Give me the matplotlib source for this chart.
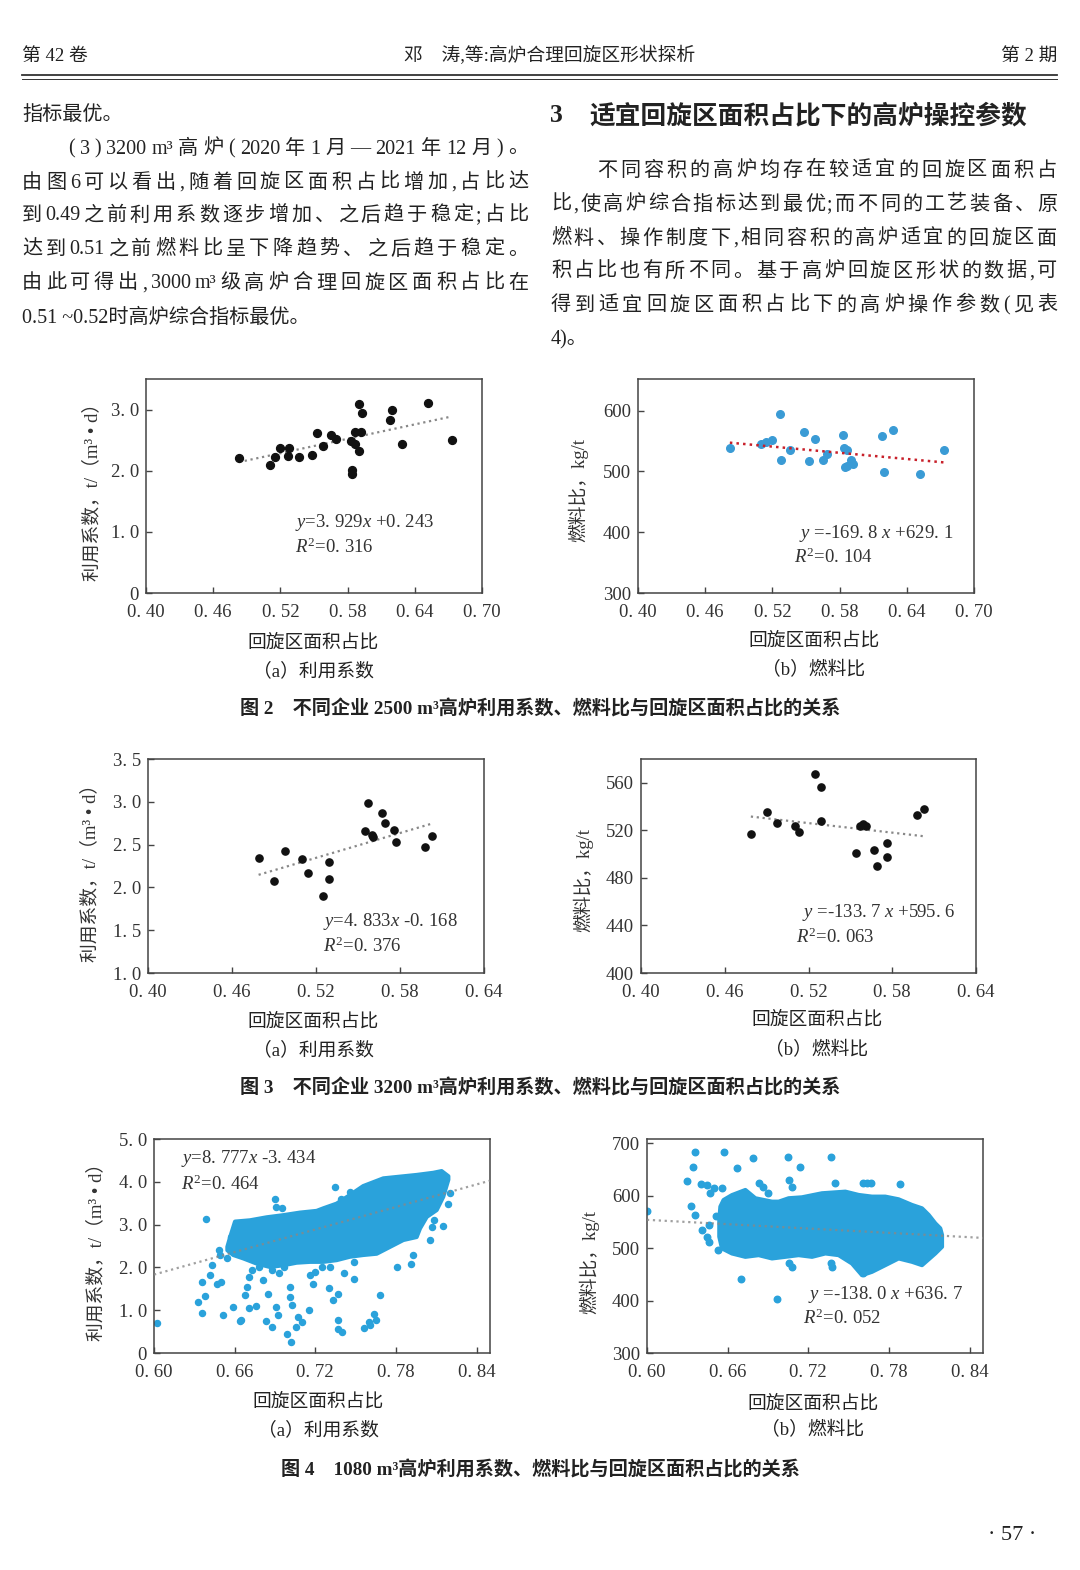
import re
import numpy as np
import matplotlib
matplotlib.use('Agg')
import matplotlib.pyplot as plt
from matplotlib.lines import Line2D

FAM = ['Liberation Serif', 'Noto Sans CJK SC']
plt.rcParams['font.family'] = FAM
plt.rcParams['mathtext.fontset'] = 'custom'
plt.rcParams['mathtext.rm'] = 'Liberation Serif'
plt.rcParams['mathtext.it'] = 'Liberation Serif:italic'

W, H = 1080, 1570
BLUE = '#2aa2db'
TXT = '#222222'

# ---------------- data: Fig 2 (2500 m3) ----------------
f2a_x = [0.483, 0.511, 0.515, 0.520, 0.527, 0.528, 0.537, 0.548, 0.553, 0.558, 0.565, 0.570, 0.583,
         0.584, 0.584, 0.587, 0.587, 0.590, 0.590, 0.592, 0.593, 0.618, 0.620, 0.629, 0.652, 0.673]
f2a_y = [2.21, 2.09, 2.23, 2.37, 2.24, 2.37, 2.23, 2.26, 2.61, 2.41, 2.59, 2.52, 2.48,
         2.01, 1.95, 2.63, 2.43, 2.32, 3.09, 2.63, 2.95, 2.83, 2.99, 2.44, 3.11, 2.51]
f2a_fit = (3.929, 0.243)

f2b_x = [0.482, 0.510, 0.514, 0.520, 0.527, 0.528, 0.536, 0.548, 0.553, 0.558, 0.565, 0.569, 0.583,
         0.584, 0.585, 0.587, 0.587, 0.590, 0.592, 0.618, 0.620, 0.628, 0.652, 0.673]
f2b_y = [537.8, 544.4, 548.3, 552.1, 594.5, 519.1, 534.5, 564.2, 517.4, 552.7, 519.1, 529.0, 559.3,
         538.9, 507.0, 508.6, 534.5, 519.1, 512.5, 558.7, 498.7, 568.1, 496.0, 535.6]
f2b_fit = (-169.8, 629.1)

# ---------------- data: Fig 3 (3200 m3) ----------------
f3a_x = [0.479, 0.490, 0.498, 0.510, 0.514, 0.525, 0.529, 0.529, 0.555, 0.557, 0.560, 0.561, 0.567,
         0.569, 0.576, 0.577, 0.598, 0.603]
f3a_y = [2.342, 2.076, 2.431, 2.334, 2.166, 1.901, 2.291, 2.100, 2.661, 2.989, 2.615, 2.587, 2.872,
         2.747, 2.669, 2.533, 2.474, 2.599]
f3a_fit = (4.833, -0.168)

f3b_x = [0.4787, 0.490, 0.4976, 0.510, 0.513, 0.5245, 0.529, 0.529, 0.554, 0.557, 0.559, 0.561, 0.567,
         0.569, 0.5765, 0.5765, 0.5975, 0.603]
f3b_y = [516.9, 535.2, 526.5, 523.4, 518.3, 567.0, 556.3, 528.2, 500.6, 523.7, 525.6, 523.4, 503.1,
         490.4, 509.0, 497.5, 532.7, 538.3]
f3b_fit = (-133.7, 595.6)

# ---------------- data: Fig 4 (1080 m3) ----------------
# dense cloud outline (upper edge left->right, lower edge right->left) + separate points
f4a_top_x = [0.6546, 0.6566, 0.6603, 0.6714, 0.6838, 0.6962, 0.7086, 0.7210, 0.7260, 0.7359, 0.7458,
             0.7557, 0.7706, 0.7830, 0.7954, 0.8078, 0.8140, 0.8190]
f4a_top_y = [2.48, 2.70, 3.07, 3.10, 3.17, 3.22, 3.28, 3.32, 3.38, 3.49, 3.69,
             3.90, 4.08, 4.12, 4.16, 4.21, 4.25, 4.13]
f4a_bot_x = [0.8190, 0.8152, 0.8103, 0.8029, 0.7979, 0.7954, 0.7855, 0.7756, 0.7657, 0.7557, 0.7458,
             0.7359, 0.7260, 0.7161, 0.7061, 0.6962, 0.6863, 0.6764, 0.6665, 0.6590, 0.6546]
f4a_bot_y = [4.05, 3.65, 3.34, 3.18, 2.91, 2.71, 2.64, 2.48, 2.32, 2.29, 2.25,
             2.17, 2.13, 2.13, 2.11, 2.05, 2.01, 2.09, 2.21, 2.29, 2.40]
f4a_x = [0.6025, 0.633, 0.636, 0.638, 0.636, 0.639, 0.642, 0.643, 0.647, 0.650, 0.648, 0.649, 0.654,
         0.651, 0.659, 0.664, 0.665, 0.668, 0.669, 0.671, 0.671, 0.676, 0.673, 0.678, 0.681, 0.683,
         0.685, 0.688, 0.688, 0.691, 0.692, 0.693, 0.697, 0.699, 0.701, 0.701, 0.702, 0.703, 0.706,
         0.707, 0.710, 0.715, 0.716, 0.718, 0.720, 0.725, 0.731, 0.730, 0.733, 0.737, 0.737, 0.737,
         0.740, 0.741, 0.749, 0.749, 0.756, 0.760, 0.761, 0.764, 0.765, 0.768, 0.781, 0.791, 0.793,
         0.805, 0.815, 0.735, 0.690, 0.691, 0.695, 0.746, 0.739, 0.657, 0.658, 0.807, 0.808, 0.819, 0.820]
f4a_y = [0.70, 1.19, 0.94, 1.34, 1.66, 3.13, 1.83, 2.05, 1.61, 1.65, 2.40, 2.29, 2.21,
         0.88, 1.08, 0.74, 0.78, 1.35, 1.54, 1.78, 1.06, 1.09, 1.93, 2.01, 1.70, 0.74,
         1.37, 0.61, 1.93, 1.08, 0.88, 1.87, 2.01, 0.45, 1.31, 1.54, 0.26, 1.13, 0.61,
         0.84, 0.73, 1.00, 1.82, 1.62, 1.90, 2.01, 2.01, 1.51, 1.25, 1.37, 0.78, 0.57,
         0.48, 1.87, 1.72, 2.13, 0.59, 0.73, 0.65, 0.92, 0.76, 1.35, 2.01, 2.08, 2.30,
         2.64, 2.97, 3.88, 3.59, 3.42, 3.38, 3.77, 3.59, 2.71, 2.64, 2.95, 3.10, 3.49, 3.73]
f4a_fit = (8.777, -3.434)

f4b_top_x = [0.6538, 0.6546, 0.6570, 0.6632, 0.6732, 0.6806, 0.6930, 0.6980, 0.7054, 0.7153, 0.7302,
             0.7476, 0.7575, 0.7674, 0.7773, 0.7872, 0.7972, 0.8046, 0.8096, 0.8145, 0.8182, 0.8195]
f4b_top_y = [553.5, 579.0, 591.7, 601.0, 610.8, 595.0, 588.5, 588.5, 595.0, 596.8, 604.5,
             607.6, 601.3, 598.1, 598.1, 593.0, 582.2, 575.8, 563.1, 547.1, 537.6, 525.0]
f4b_bot_x = [0.8195, 0.8145, 0.8046, 0.7972, 0.7872, 0.7773, 0.7674, 0.7600, 0.7525, 0.7426, 0.7327,
             0.7228, 0.7128, 0.7029, 0.6930, 0.6831, 0.6732, 0.6632, 0.6558, 0.6538]
f4b_bot_y = [502.5, 489.8, 467.5, 473.9, 480.3, 467.5, 454.8, 448.4, 470.7, 486.6, 489.8,
             483.4, 486.6, 483.4, 480.3, 486.6, 483.4, 489.8, 499.4, 521.7]
f4b_x = [0.600, 0.6355, 0.657, 0.679, 0.705, 0.737, 0.634, 0.667, 0.714, 0.630, 0.640, 0.645, 0.650,
         0.647, 0.656, 0.633, 0.636, 0.641, 0.646, 0.645, 0.646, 0.651, 0.653, 0.683, 0.686, 0.690,
         0.706, 0.708, 0.740, 0.761, 0.764, 0.767, 0.788, 0.670, 0.697, 0.706, 0.708, 0.737, 0.738, 0.761]
f4b_y = [571.3, 684.1, 682.8, 671.3, 674.5, 674.5, 655.4, 652.2, 655.4, 628.7, 622.3, 620.4, 614.0,
         605.7, 614.0, 580.3, 563.1, 534.4, 544.0, 521.7, 512.1, 561.1, 496.2, 623.6, 617.2, 604.5,
         629.9, 617.2, 624.8, 623.6, 623.6, 623.6, 622.3, 442.0, 403.8, 470.7, 464.3, 470.7, 464.3, 451.6]
f4b_fit = (-138.0, 636.7)

fig = plt.figure(figsize=(W / 100, H / 100), dpi=100)
fig.patch.set_facecolor('white')
renderer = fig.canvas.get_renderer()


def fx(x):
    return x / W


def fy(y):
    return 1 - y / H


def put(x, y, s, size=14.5, ha='left', **kw):
    return fig.text(fx(x), fy(y), s, fontsize=size, ha=ha, va='center', color=TXT, **kw)


def put_justified(x0, x1, y, s, size=14.5, **kw):
    # spread the pieces of one line evenly over the column width
    toks = re.findall(r'[A-Za-z0-9.~³]+|\S', s)
    widths = []
    for t in toks:
        tt = fig.text(0, 0, t, fontsize=size, **kw)
        widths.append(tt.get_window_extent(renderer=renderer).width)
        tt.remove()
    gap = (x1 - x0 - sum(widths)) / max(len(toks) - 1, 1)
    x = x0
    for t, w in zip(toks, widths):
        put(x, y, t, size=size, **kw)
        x += w + gap


# ---------------- header and body text ----------------
put(22, 56, '第 42 卷', size=13.5)
put(550, 56, '邓　涛,等:高炉合理回旋区形状探析', size=13.5, ha='center')
put(1057, 56, '第 2 期', size=13.5, ha='right')
fig.add_artist(Line2D([fx(22), fx(1057)], [fy(75), fy(75)], color='#333', lw=1.3, transform=fig.transFigure))
fig.add_artist(Line2D([fx(22), fx(1057)], [fy(78.5), fy(78.5)], color='#333', lw=0.7, transform=fig.transFigure))

L0, L1 = 22, 528
put(L0, 115, '指标最优。')
put_justified(68, L1, 149, '(3)3200 m³高炉(2020 年 1 月—2021 年 12 月)。')
put_justified(L0, L1, 183, '由图 6 可以看出,随着回旋区面积占比增加,占比达')
put_justified(L0, L1, 216, '到 0.49 之前利用系数逐步增加、之后趋于稳定;占比')
put_justified(L0, L1, 250, '达到 0.51 之前燃料比呈下降趋势、之后趋于稳定。')
put_justified(L0, L1, 284, '由此可得出,3000 m³级高炉合理回旋区面积占比在')
put(L0, 318, '0.51 ~0.52时高炉综合指标最优。')

R0, R1 = 551, 1057
put(550, 116, '3', size=18.5, weight='bold')
put(589, 116, '适宜回旋区面积占比下的高炉操控参数', size=18.5, weight='bold')
put_justified(597, R1, 171, '不同容积的高炉均存在较适宜的回旋区面积占')
put_justified(R0, R1, 205, '比,使高炉综合指标达到最优;而不同的工艺装备、原')
put_justified(R0, R1, 239, '燃料、操作制度下,相同容积的高炉适宜的回旋区面')
put_justified(R0, R1, 272, '积占比也有所不同。基于高炉回旋区形状的数据,可')
put_justified(R0, R1, 306, '得到适宜回旋区面积占比下的高炉操作参数(见表')
put(R0, 340, '4)。')

put(540, 709, '图 2　不同企业 2500 m³高炉利用系数、燃料比与回旋区面积占比的关系', size=13.8, ha='center', weight='bold')
put(540, 1088, '图 3　不同企业 3200 m³高炉利用系数、燃料比与回旋区面积占比的关系', size=13.8, ha='center', weight='bold')
put(540, 1470, '图 4　1080 m³高炉利用系数、燃料比与回旋区面积占比的关系', size=13.8, ha='center', weight='bold')
put(1012, 1535, '· 57 ·', size=16, ha='center')


# ---------------- charts ----------------
def make_ax(l, t, r, b, xlim, ylim, xticks, yticks, ylabels):
    ax = fig.add_axes([fx(l), fy(b), (r - l) / W, (b - t) / H])
    for sp in ax.spines.values():
        sp.set_color('#444')
        sp.set_linewidth(1.1)
    ax.set_xlim(*xlim)
    ax.set_ylim(*ylim)
    ax.set_xticks(xticks)
    ax.set_xticklabels(['0. %02d' % round(v * 100) for v in xticks])
    ax.set_yticks(yticks)
    ax.set_yticklabels(ylabels)
    ax.tick_params(direction='in', length=4.5, width=1, colors='#444', labelsize=13.5,
                   labelcolor='#333')
    ax.tick_params(axis='x', pad=8)
    ax.tick_params(axis='y', pad=5)
    return ax


def labels(cx, yx, ylab, yy, sub, x_y, sub_y):
    put(cx, x_y, '回旋区面积占比', size=13.5, ha='center')
    put(cx, sub_y, sub, size=13.5, ha='center')
    fig.text(fx(yx), fy(yy), ylab, fontsize=13.5, rotation=90, ha='center', va='center', color='#333')


def eq(ax, x, y, slope, icpt):
    sign = '+' if icpt >= 0 else '-'
    s1 = ('%.3f' % slope).replace('.', '. ')
    s2 = ('%.3f' % abs(icpt)).replace('.', '. ')
    ax.text(x, y, '$y$=%s$x$ %s%s' % (s1, sign, s2), fontsize=13.5, color='#333', va='center')


def eq1(ax, x, y, slope, icpt):
    sign = '+' if icpt >= 0 else '-'
    s1 = ('%.1f' % slope).replace('.', '. ')
    s2 = ('%.1f' % abs(icpt)).replace('.', '. ')
    ax.text(x, y, '$y$ =%s $x$ %s%s' % (s1, sign, s2), fontsize=13.5, color='#333', va='center')


def r2txt(ax, x, y, r2):
    ax.text(x, y, '$R^2$=%s' % r2, fontsize=13.5, color='#333', va='center')


ULAB = '利用系数，t/（m³ • d）'
FLAB = '燃料比，kg/t'

# Fig 2a
ax = make_ax(146, 379, 482, 593, (0.40, 0.70), (0, 3.5), [0.40, 0.46, 0.52, 0.58, 0.64, 0.70],
             [0, 1, 2, 3], ['0', '1. 0', '2. 0', '3. 0'])
ax.scatter(f2a_x, f2a_y, s=32, color='#111', zorder=3)
xs = np.array([min(f2a_x), max(f2a_x)])
ax.plot(xs, f2a_fit[0] * xs + f2a_fit[1], ':', color='#888', lw=1.6, zorder=2)
eq(ax, 0.533, 1.15, *f2a_fit)
r2txt(ax, 0.533, 0.75, '0. 316')
labels(313, 92, ULAB, 487, '（a）利用系数', 643, 671)

# Fig 2b
ax = make_ax(638, 379, 974, 593, (0.40, 0.70), (300, 652), [0.40, 0.46, 0.52, 0.58, 0.64, 0.70],
             [300, 400, 500, 600], ['300', '400', '500', '600'])
ax.scatter(f2b_x, f2b_y, s=30, color='#3a9bd5', zorder=2)
xs = np.array([min(f2b_x), max(f2b_x)])
ax.plot(xs, f2b_fit[0] * xs + f2b_fit[1], ':', color='#c8202a', lw=1.8, zorder=3)
eq1(ax, 0.544, 398, *f2b_fit)
r2txt(ax, 0.539, 358, '0. 104')
labels(814, 578, FLAB, 490, '（b）燃料比', 641, 670)

# Fig 3a
ax = make_ax(148, 759, 484, 973, (0.40, 0.64), (1.0, 3.5), [0.40, 0.46, 0.52, 0.58, 0.64],
             [1.0, 1.5, 2.0, 2.5, 3.0, 3.5], ['1. 0', '1. 5', '2. 0', '2. 5', '3. 0', '3. 5'])
ax.scatter(f3a_x, f3a_y, s=27, color='#111', zorder=3)
xs = np.array([min(f3a_x), max(f3a_x)])
ax.plot(xs, f3a_fit[0] * xs + f3a_fit[1], ':', color='#888', lw=1.6, zorder=2)
eq(ax, 0.525, 1.60, *f3a_fit)
r2txt(ax, 0.525, 1.31, '0. 376')
labels(313, 90, ULAB, 868, '（a）利用系数', 1022, 1050)

# Fig 3b
ax = make_ax(641, 759, 976, 973, (0.40, 0.64), (400, 580), [0.40, 0.46, 0.52, 0.58, 0.64],
             [400, 440, 480, 520, 560], ['400', '440', '480', '520', '560'])
ax.scatter(f3b_x, f3b_y, s=27, color='#111', zorder=3)
xs = np.array([min(f3b_x), max(f3b_x)])
ax.plot(xs, f3b_fit[0] * xs + f3b_fit[1], ':', color='#888', lw=1.6, zorder=2)
eq1(ax, 0.515, 451, *f3b_fit)
r2txt(ax, 0.511, 430, '0. 063')
labels(817, 583, FLAB, 880, '（b）燃料比', 1020, 1050)

# Fig 4a
ax = make_ax(154, 1139, 490, 1353, (0.60, 0.85), (0, 5), [0.60, 0.66, 0.72, 0.78, 0.84],
             [0, 1, 2, 3, 4, 5], ['0', '1. 0', '2. 0', '3. 0', '4. 0', '5. 0'])
ax.fill(f4a_top_x + f4a_bot_x, f4a_top_y + f4a_bot_y, color=BLUE, lw=3, joinstyle='round', zorder=2)
ax.scatter(f4a_x, f4a_y, s=19, color=BLUE, zorder=2)
xs = np.array([0.60, 0.85])
ax.plot(xs, f4a_fit[0] * xs + f4a_fit[1], ':', color='#888', lw=1.6, alpha=0.8, zorder=3)
eq(ax, 0.620, 4.55, *f4a_fit)
r2txt(ax, 0.620, 3.93, '0. 464')
labels(318, 96, ULAB, 1247, '（a）利用系数', 1402, 1430)

# Fig 4b
ax = make_ax(647, 1139, 983, 1353, (0.60, 0.85), (300, 708), [0.60, 0.66, 0.72, 0.78, 0.84],
             [300, 400, 500, 600, 700], ['300', '400', '500', '600', '700'])
ax.fill(f4b_top_x + f4b_bot_x, f4b_top_y + f4b_bot_y, color=BLUE, lw=3, joinstyle='round', zorder=2)
ax.scatter(f4b_x, f4b_y, s=22, color=BLUE, zorder=2)
ax.plot(xs, f4b_fit[0] * xs + f4b_fit[1], ':', color='#888', lw=1.6, alpha=0.8, zorder=3)
eq1(ax, 0.720, 412, *f4b_fit)
r2txt(ax, 0.716, 366, '0. 052')
labels(813, 589, FLAB, 1262, '（b）燃料比', 1404, 1430)

fig.savefig('out.png', dpi=100, facecolor='white')
